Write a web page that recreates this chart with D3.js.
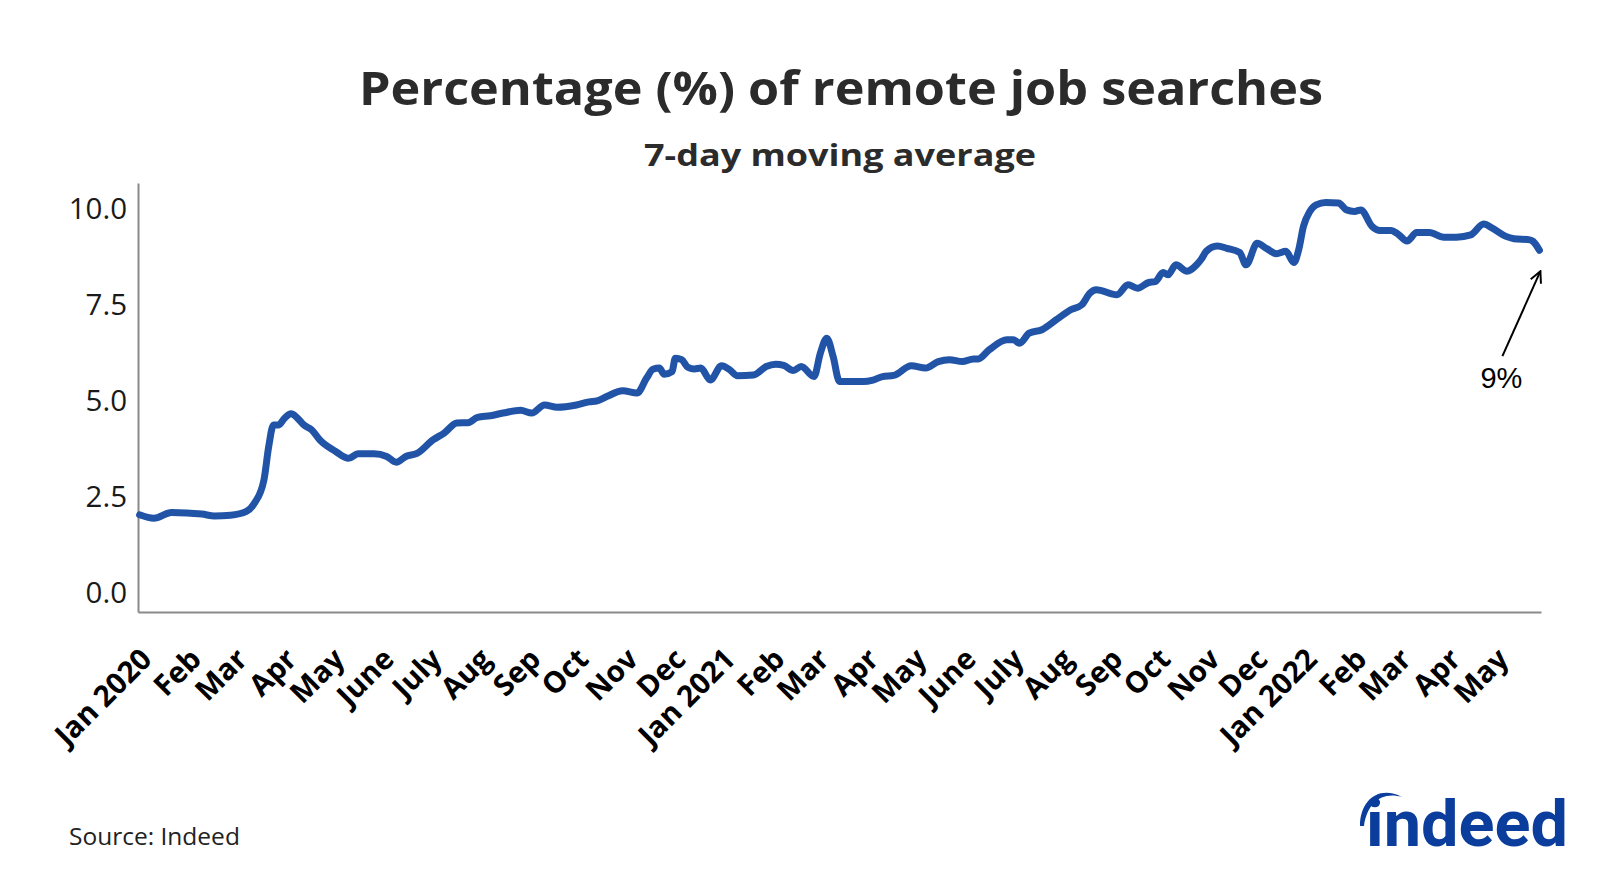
<!DOCTYPE html>
<html>
<head>
<meta charset="utf-8">
<script src="https://cdn.jsdelivr.net/npm/d3@7"></script>
<style>
  html, body { margin: 0; padding: 0; background: #fff; }
  svg { display: block; }
</style>
</head>
<body>
<svg id="chart" width="1600" height="873"></svg>
<script>
// ---------- DATA ----------
const dates = [
  "2020-01-02","2020-01-11","2020-01-22","2020-02-10","2020-02-18","2020-02-28","2020-03-09","2020-03-14",
  "2020-03-20","2020-03-23","2020-03-26","2020-03-29","2020-04-02","2020-04-06","2020-04-10","2020-04-14",
  "2020-04-19","2020-04-24","2020-05-04","2020-05-12","2020-05-18","2020-05-28","2020-06-05","2020-06-11",
  "2020-06-17","2020-06-24","2020-07-04","2020-07-11","2020-07-19","2020-07-26","2020-08-01","2020-08-09",
  "2020-08-17","2020-08-28","2020-09-04","2020-09-12","2020-09-20","2020-10-02","2020-10-10","2020-10-15",
  "2020-10-21","2020-10-31","2020-11-09","2020-11-15","2020-11-19","2020-11-23","2020-11-26","2020-12-01",
  "2020-12-03","2020-12-07","2020-12-11","2020-12-15","2020-12-19","2020-12-25","2021-01-01","2021-01-06",
  "2021-01-11","2021-01-21","2021-01-29","2021-02-04","2021-02-09","2021-02-15","2021-02-20","2021-02-28",
  "2021-03-04","2021-03-08","2021-03-12","2021-03-16","2021-03-23","2021-03-31","2021-04-06","2021-04-12",
  "2021-04-19","2021-04-30","2021-05-09","2021-05-17","2021-05-24","2021-06-01","2021-06-08","2021-06-11",
  "2021-06-18","2021-06-29","2021-07-03","2021-07-07","2021-07-13","2021-07-21","2021-07-30","2021-08-08",
  "2021-08-15","2021-08-20","2021-08-24","2021-09-06","2021-09-13","2021-09-19","2021-09-26","2021-09-30",
  "2021-10-05","2021-10-08","2021-10-13","2021-10-20","2021-10-26","2021-10-29","2021-11-01","2021-11-08",
  "2021-11-14","2021-11-22","2021-11-26","2021-12-03","2021-12-09","2021-12-15","2021-12-21","2021-12-26",
  "2021-12-29","2022-01-01","2022-01-05","2022-01-09","2022-01-15","2022-01-23","2022-01-28","2022-02-02",
  "2022-02-06","2022-02-13","2022-02-18","2022-02-25","2022-03-01","2022-03-07","2022-03-13","2022-03-21",
  "2022-03-30","2022-04-07","2022-04-16","2022-04-24","2022-04-30","2022-05-08","2022-05-13","2022-05-23",
  "2022-05-25","2022-05-29"
];
const remoteShare = [
  2.04,1.95,2.10,2.06,2.01,2.03,2.13,2.34,
  2.95,3.82,4.38,4.38,4.56,4.67,4.56,4.38,
  4.25,3.99,3.69,3.51,3.63,3.63,3.56,3.41,
  3.56,3.64,3.99,4.17,4.43,4.44,4.58,4.62,
  4.69,4.76,4.69,4.90,4.84,4.90,4.98,5.01,
  5.12,5.27,5.21,5.60,5.83,5.86,5.70,5.77,
  6.12,6.08,5.88,5.84,5.86,5.55,5.92,5.82,
  5.66,5.68,5.90,5.96,5.93,5.80,5.90,5.64,
  6.25,6.64,6.16,5.51,5.51,5.51,5.55,5.64,
  5.67,5.92,5.86,6.03,6.08,6.03,6.10,6.10,
  6.34,6.60,6.60,6.51,6.77,6.86,7.12,7.38,
  7.51,7.81,7.90,7.77,8.03,7.94,8.09,8.11,
  8.35,8.29,8.55,8.38,8.55,8.70,8.90,9.04,
  8.98,8.87,8.55,9.11,8.97,8.84,8.90,8.61,
  8.94,9.55,9.94,10.11,10.17,10.16,9.98,9.94,
  9.98,9.55,9.44,9.44,9.36,9.17,9.39,9.39,
  9.27,9.27,9.33,9.61,9.49,9.29,9.23,9.20,
  9.16,8.93
];
const tickDates = [
  "2020-01-01","2020-02-01","2020-03-01","2020-04-01","2020-05-01","2020-06-01","2020-07-01","2020-08-01",
  "2020-09-01","2020-10-01","2020-11-01","2020-12-01","2021-01-01","2021-02-01","2021-03-01","2021-04-01",
  "2021-05-01","2021-06-01","2021-07-01","2021-08-01","2021-09-01","2021-10-01","2021-11-01","2021-12-01",
  "2022-01-01","2022-02-01","2022-03-01","2022-04-01","2022-05-01"
];
const tickLabels = [
  "Jan 2020","Feb","Mar","Apr","May","June","July","Aug","Sep","Oct","Nov","Dec",
  "Jan 2021","Feb","Mar","Apr","May","June","July","Aug","Sep","Oct","Nov","Dec",
  "Jan 2022","Feb","Mar","Apr","May"
];
const yTicks = [0, 2.5, 5, 7.5, 10];
const dateDomain = ["2020-01-01", "2022-05-30"];
const yDomain = [-0.49, 10.68];
const title = "Percentage (%) of remote job searches";
const subtitle = "7-day moving average";
const annotationText = "9%";
const sourceText = "Source: Indeed";

// ---------- CHART ----------
(function () {
const parse = d3.utcParse("%Y-%m-%d");
const data = dates.map((d, i) => ({ date: parse(d), value: remoteShare[i] }));

const svg = d3.select("#chart");
const pLeft = 138, pRight = 1541, pTop = 183, pBottom = 612;

const x = d3.scaleUtc().domain(dateDomain.map(parse)).range([pLeft, pRight]);
const y = d3.scaleLinear().domain(yDomain).range([pBottom, pTop]);

const FONT = "'Open Sans', 'Noto Sans', sans-serif";

// Title & subtitle
svg.append("text")
  .attr("x", 841).attr("y", 105)
  .attr("text-anchor", "middle")
  .attr("font-family", FONT).attr("font-weight", 700).attr("font-size", 47)
  .attr("textLength", 964).attr("lengthAdjust", "spacingAndGlyphs")
  .attr("fill", "#2b2b2b")
  .text(title);
svg.append("text")
  .attr("x", 840).attr("y", 166)
  .attr("text-anchor", "middle")
  .attr("font-family", FONT).attr("font-weight", 700).attr("font-size", 30)
  .attr("textLength", 392).attr("lengthAdjust", "spacingAndGlyphs")
  .attr("fill", "#2b2b2b")
  .text(subtitle);

// Y axis
const yAxis = d3.axisLeft(y).tickValues(yTicks).tickFormat(d3.format(".1f")).tickSize(0).tickPadding(11);
const gy = svg.append("g").attr("transform", `translate(${pLeft},0)`).call(yAxis);
gy.select(".domain").attr("stroke", "#8a8a8a").attr("stroke-width", 2);
gy.selectAll("text").attr("font-family", FONT).attr("font-size", 29.5).attr("fill", "#1a1a1a");

// X axis
const xAxis = d3.axisBottom(x)
  .tickValues(tickDates.map(parse))
  .tickFormat((d, i) => tickLabels[i])
  .tickSize(0);
const gx = svg.append("g").attr("transform", `translate(0,${pBottom})`).call(xAxis);
gx.select(".domain").attr("stroke", "#8a8a8a").attr("stroke-width", 2);
gx.selectAll("text")
  .attr("font-family", FONT).attr("font-weight", 700).attr("font-size", 29.5).attr("fill", "#000")
  .attr("text-anchor", "end")
  .attr("dy", null).attr("y", null)
  .attr("transform", "translate(15,49) rotate(-45)");

// Line
const line = d3.line()
  .x(d => x(d.date))
  .y(d => y(d.value))
  .curve(d3.curveMonotoneX);
svg.append("path")
  .datum(data)
  .attr("fill", "none")
  .attr("stroke", "#2154a6")
  .attr("stroke-width", 7)
  .attr("stroke-linejoin", "round")
  .attr("stroke-linecap", "round")
  .attr("d", line);

// Annotation arrow
const last = data[data.length - 1];
const lx = x(last.date), ly = y(last.value);
svg.append("defs").append("marker")
  .attr("id", "arrow").attr("viewBox", "0 0 10 10")
  .attr("refX", 9).attr("refY", 5)
  .attr("markerWidth", 7).attr("markerHeight", 7)
  .attr("orient", "auto")
  .append("path").attr("d", "M1,1 L9,5 L1,9").attr("fill", "none").attr("stroke", "#000").attr("stroke-width", 1.4);
svg.append("line")
  .attr("x1", lx - 37).attr("y1", ly + 106)
  .attr("x2", lx + 1).attr("y2", ly + 21)
  .attr("stroke", "#000").attr("stroke-width", 2)
  .attr("marker-end", "url(#arrow)");
svg.append("text")
  .attr("x", lx - 38).attr("y", ly + 138)
  .attr("text-anchor", "middle")
  .attr("font-family", "'Liberation Sans', Arial, sans-serif").attr("font-size", 29)
  .attr("fill", "#000")
  .text(annotationText);

// Source
svg.append("text")
  .attr("x", 69).attr("y", 845)
  .attr("font-family", FONT).attr("font-size", 24.5).attr("fill", "#222")
  .text(sourceText);

// Logo
const logo = svg.append("g");
logo.append("text")
  .attr("x", 1366).attr("y", 846)
  .attr("font-family", "Roboto, 'Open Sans', sans-serif").attr("font-weight", 700)
  .attr("font-size", 64)
  .attr("textLength", 202).attr("lengthAdjust", "spacingAndGlyphs")
  .attr("fill", "#0a3d9c")
  .text("indeed");
logo.append("path")
  .attr("d", "M1360,826 C1360,800 1379,785 1402,797 C1382,791 1367,803 1364,826 Z")
  .attr("fill", "#0a3d9c");
})();
</script>
</body>
</html>
